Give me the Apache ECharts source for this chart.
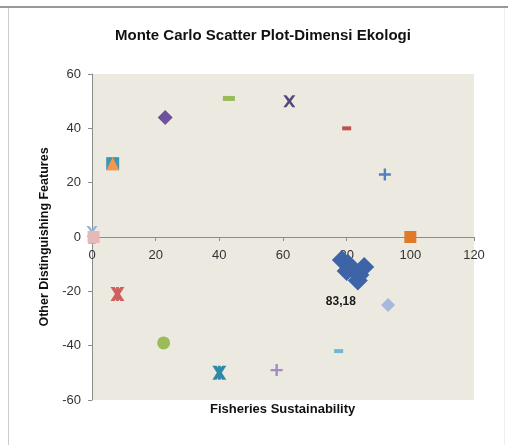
<!DOCTYPE html>
<html>
<head>
<meta charset="utf-8">
<script src="https://cdn.jsdelivr.net/npm/echarts@6/dist/echarts.min.js"></script>
<style>
  html, body { margin: 0; padding: 0; background: #fff; }
  #chart { width: 508px; height: 445px; }
</style>
</head>
<body>
<div id="chart"></div>
<script>
// point values (x = Fisheries Sustainability, y = Other Distinguishing Features)
const pointX = [23, 43, 62, 80, 92, 100, 6.5, 6.5, 0, 0, 0.5, 8, 22.5, 40, 58, 77.5, 93];
const pointY = [44, 51, 50, 40, 23, 0, 27, 27, -1, 2, 0, -21, -39, -50, -49, -42, -25];
// monte carlo cluster
const clusterX = [78.5, 80.5, 82, 84, 85.5, 80, 83.5];
const clusterY = [-8.5, -10, -12, -14, -11, -12.5, -16];
const clusterLabel = "83,18";
const xTicks = [0, 20, 40, 60, 80, 100, 120];
const yTicks = [-60, -40, -20, 0, 20, 40, 60];

// marker paths
const X_PATH = "path://M0,0 L2.5,0 L5,3.2 L7.5,0 L10,0 L6.4,5 L10,10 L7.5,10 L5,6.8 L2.5,10 L0,10 L3.6,5 Z";
const PLUS_PATH = "path://M4,0 H6 V4 H10 V6 H6 V10 H4 V6 H0 V4 H4 Z";
const DASH_PATH = "path://M0,0 H10 V4 H0 Z";
const STAR_PATH = "path://M0,0 L3,0 L5,2.6 L7,0 L10,0 L6.8,5 L10,10 L7,10 L5,7.4 L3,10 L0,10 L3.2,5 Z M4,0 H6 V10 H4 Z";

// one style per point (same order as the value arrays)
const markerStyle = [
  { symbol: "diamond", size: 15, color: "#6E52A0" },
  { symbol: DASH_PATH, size: [12, 5], color: "#9BBB59" },
  { symbol: X_PATH, size: 12, color: "#56477A" },
  { symbol: DASH_PATH, size: [9, 4], color: "#C0504D" },
  { symbol: PLUS_PATH, size: 12, color: "#4F81BD" },
  { symbol: "rect", size: 12, color: "#E07A2A" },
  { symbol: "rect", size: 13, color: "#3E97AE" },
  { symbol: "triangle", size: 13, color: "#F79646" },
  { symbol: "triangle", size: 8, color: "#9BBB59" },
  { symbol: X_PATH, size: 11, color: "#95B3D7" },
  { symbol: "rect", size: 12, color: "#E6B9B8" },
  { symbol: STAR_PATH, size: 14, color: "#D0605F" },
  { symbol: "circle", size: 13, color: "#9BBB59" },
  { symbol: STAR_PATH, size: 14, color: "#2E8AA8" },
  { symbol: PLUS_PATH, size: 12, color: "#A08CC0" },
  { symbol: DASH_PATH, size: [9, 4], color: "#6DB8D2" },
  { symbol: "diamond", size: 14, color: "#A6B9DC" }
];

const font = "'Liberation Sans', Arial, sans-serif";

const series = pointX.map((x, i) => ({
  type: "scatter",
  clip: false,
  symbol: markerStyle[i].symbol,
  symbolSize: markerStyle[i].size,
  itemStyle: { color: markerStyle[i].color, opacity: 1 },
  data: [[x, pointY[i]]]
}));

series.push({
  type: "scatter",
  clip: false,
  symbol: "diamond",
  symbolSize: 20,
  itemStyle: { color: "#3C64A6", opacity: 1 },
  data: clusterX.map((x, i) => ({
    value: [x, clusterY[i]],
    label: i === clusterX.length - 1 ? {
      show: true,
      formatter: clusterLabel,
      position: "bottom",
      offset: [-17, 0],
      color: "#1a1a1a",
      fontWeight: "bold",
      fontSize: 12,
      fontFamily: font
    } : { show: false }
  }))
});

const chart = echarts.init(document.getElementById("chart"));
chart.setOption({
  animation: false,
  title: {
    text: "Monte Carlo Scatter Plot-Dimensi Ekologi",
    left: 110,
    top: 23,
    textStyle: { fontSize: 15, fontWeight: "bold", color: "#111", fontFamily: font }
  },
  graphic: [
    { type: "line", shape: { x1: 0, y1: 7, x2: 508, y2: 7 }, style: { stroke: "#999", lineWidth: 2 } },
    { type: "line", shape: { x1: 8.5, y1: 8, x2: 8.5, y2: 445 }, style: { stroke: "#ccc", lineWidth: 1 } },
    { type: "line", shape: { x1: 504.5, y1: 8, x2: 504.5, y2: 445 }, style: { stroke: "#eee", lineWidth: 1 } },
    {
      type: "text",
      left: 210,
      top: 403,
      style: {
        text: "Fisheries Sustainability",
        font: "bold 13px 'Liberation Sans', Arial, sans-serif",
        fill: "#111"
      }
    }
  ],
  grid: {
    left: 92,
    right: 34,
    top: 74,
    bottom: 45,
    show: true,
    backgroundColor: "#ECEAE0",
    borderWidth: 0,
    containLabel: false,
    outerBoundsMode: "none"
  },
  xAxis: {
    type: "value",
    min: xTicks[0],
    max: xTicks[xTicks.length - 1],
    interval: 20,
    position: "bottom",
    offset: -163,
    axisLine: { onZero: false, lineStyle: { color: "#8c8c8c", width: 1 } },
    axisTick: { show: true, length: 4, lineStyle: { color: "#8c8c8c" } },
    axisLabel: { fontSize: 13, color: "#333", fontFamily: font, margin: 12 },
    splitLine: { show: false }
  },
  yAxis: {
    type: "value",
    min: yTicks[0],
    max: yTicks[yTicks.length - 1],
    interval: 20,
    name: "Other Distinguishing Features",
    nameLocation: "middle",
    nameGap: 41,
    nameTextStyle: { fontSize: 12.5, fontWeight: "bold", color: "#111", fontFamily: font },
    axisLine: { onZero: false, lineStyle: { color: "#8c8c8c", width: 1 } },
    axisTick: { show: true, length: 4, lineStyle: { color: "#8c8c8c" } },
    axisLabel: { fontSize: 13, color: "#333", fontFamily: font, margin: 11 },
    splitLine: { show: false }
  },
  series: series
});
</script>
</body>
</html>
